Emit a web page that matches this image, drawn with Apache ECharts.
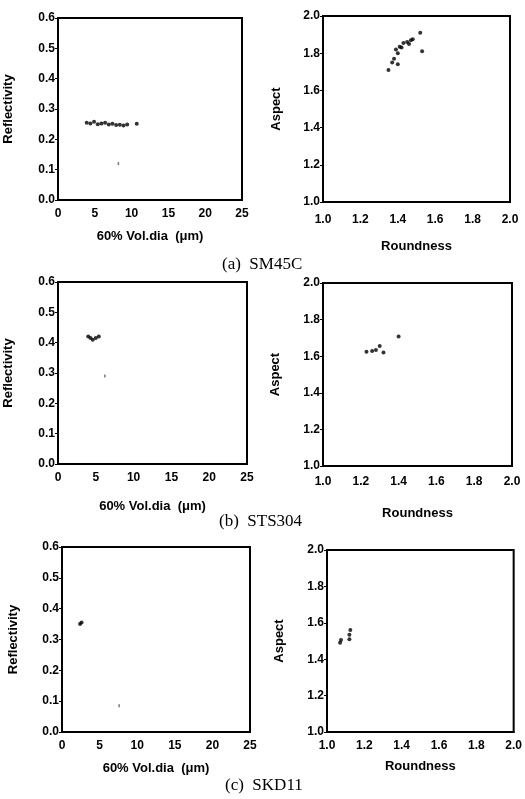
<!DOCTYPE html>
<html>
<head>
<meta charset="utf-8">
<script src="https://cdn.jsdelivr.net/npm/echarts@6/dist/echarts.min.js"></script>
<style>
  html, body { margin: 0; padding: 0; background: #fff; }
  #chart { width: 525px; height: 799px; }
</style>
</head>
<body>
<div id="chart"></div>
<script>
// tick values
var diaTicks = [0, 5, 10, 15, 20, 25];
var reflTicks = [0.0, 0.1, 0.2, 0.3, 0.4, 0.5, 0.6];
var roundTicks = [1.0, 1.2, 1.4, 1.6, 1.8, 2.0];
var aspectTicks = [1.0, 1.2, 1.4, 1.6, 1.8, 2.0];

// (a) SM45C
var aDia  = [3.9, 4.4, 4.9, 5.4, 5.9, 6.4, 6.9, 7.4, 7.9, 8.4, 8.9, 9.4, 10.7];
var aRefl = [0.255, 0.252, 0.258, 0.25, 0.252, 0.255, 0.249, 0.251, 0.247, 0.248, 0.246, 0.249, 0.251];
var aRound  = [1.35, 1.37, 1.38, 1.40, 1.39, 1.41, 1.40, 1.43, 1.45, 1.46, 1.47, 1.48, 1.52, 1.53, 1.42];
var aAspect = [1.71, 1.75, 1.77, 1.74, 1.82, 1.835, 1.80, 1.855, 1.86, 1.85, 1.87, 1.875, 1.91, 1.81, 1.83];

// (b) STS304
var bDia  = [4.0, 4.3, 4.6, 5.0, 5.4];
var bRefl = [0.42, 0.415, 0.41, 0.415, 0.42];
var bRound  = [1.23, 1.26, 1.28, 1.30, 1.32, 1.40];
var bAspect = [1.625, 1.628, 1.634, 1.656, 1.62, 1.707];

// (c) SKD11
var cDia  = [2.4, 2.6];
var cRefl = [0.35, 0.355];
var cRound  = [1.07, 1.075, 1.12, 1.12, 1.125];
var cAspect = [1.49, 1.505, 1.51, 1.535, 1.56];

// faint specks in the left panels (a, b, c)
var speckDia  = [8.2, 6.2, 7.6];
var speckRefl = [0.12, 0.29, 0.085];

var captions = ['(a)  SM45C', '(b)  STS304', '(c)  SKD11'];

function pairs(xs, ys) {
  var out = [];
  for (var i = 0; i < xs.length; i++) { out.push([xs[i], ys[i]]); }
  return out;
}

var tickFont = { color: '#000', fontFamily: 'Liberation Sans', fontWeight: 'bold', fontSize: 12 };
var nameFont = { color: '#000', fontFamily: 'Liberation Sans', fontWeight: 'bold', fontSize: 13 };

var grids = [
  { left: 58,  top: 18,  width: 184, height: 182 },
  { left: 323, top: 16,  width: 187, height: 186 },
  { left: 58,  top: 282, width: 189, height: 182 },
  { left: 323, top: 283, width: 189, height: 183 },
  { left: 62,  top: 547, width: 188, height: 185 },
  { left: 327, top: 550, width: 188, height: 182 }
];
grids.forEach(function (g) {
  g.show = true;
  g.borderColor = '#000';
  g.borderWidth = 2;
  g.backgroundColor = 'transparent';
});

var xGaps = [30, 38, 36, 41, 30, 28];
var xMargins = [8, 12, 8, 10, 8, 8];
var yGaps = [43, 40, 43, 41, 42, 41];

function intFmt(v) { return String(Math.round(v)); }
function oneDec(v) { return v.toFixed(1); }

var xAxes = [], yAxes = [];
for (var i = 0; i < 6; i++) {
  var left = (i % 2 === 0);
  var xt = left ? diaTicks : roundTicks;
  var yt = left ? reflTicks : aspectTicks;
  xAxes.push({
    type: 'value', gridIndex: i,
    min: xt[0], max: xt[xt.length - 1], interval: Math.round((xt[1] - xt[0]) * 10) / 10,
    name: left ? '60% Vol.dia  (\u03bcm)' : 'Roundness',
    nameLocation: 'middle', nameGap: xGaps[i],
    nameTextStyle: nameFont,
    axisLine: { show: true, lineStyle: { color: '#000', width: 2 } },
    axisTick: { show: false },
    splitLine: { show: false },
    axisLabel: Object.assign({ margin: xMargins[i], formatter: left ? intFmt : oneDec }, tickFont)
  });
  yAxes.push({
    type: 'value', gridIndex: i,
    min: yt[0], max: yt[yt.length - 1], interval: Math.round((yt[1] - yt[0]) * 10) / 10,
    name: left ? 'Reflectivity' : 'Aspect',
    nameLocation: 'middle', nameGap: yGaps[i],
    nameTextStyle: nameFont,
    axisLine: { show: true, lineStyle: { color: '#000', width: 2 } },
    axisTick: { show: true, length: 3, lineStyle: { color: '#000' } },
    splitLine: { show: false },
    axisLabel: Object.assign({ margin: 3, formatter: oneDec }, tickFont)
  });
}

var sets = [
  pairs(aDia, aRefl), pairs(aRound, aAspect),
  pairs(bDia, bRefl), pairs(bRound, bAspect),
  pairs(cDia, cRefl), pairs(cRound, cAspect)
];
var series = sets.map(function (d, i) {
  return {
    type: 'scatter', xAxisIndex: i, yAxisIndex: i,
    data: d, symbol: 'circle', symbolSize: 4,
    itemStyle: { color: '#000' }, silent: true
  };
});
for (var k = 0; k < speckDia.length; k++) {
  series.push({
    type: 'scatter', xAxisIndex: k * 2, yAxisIndex: k * 2,
    data: [[speckDia[k], speckRefl[k]]], symbol: 'rect', symbolSize: [1.5, 3],
    itemStyle: { color: '#555' }, silent: true
  });
}

var captionFont = { color: '#000', fontFamily: 'Liberation Serif', fontSize: 17, fontWeight: 'normal' };
var titles = [
  { text: captions[0], left: 222, top: 256, textStyle: captionFont },
  { text: captions[1], left: 219, top: 513, textStyle: captionFont },
  { text: captions[2], left: 225, top: 777, textStyle: captionFont }
];
titles.forEach(function (t) { t.padding = 0; });

var chart = echarts.init(document.getElementById('chart'), null, { renderer: 'canvas' });
chart.setOption({
  animation: false,
  backgroundColor: '#fff',
  title: titles,
  grid: grids,
  xAxis: xAxes,
  yAxis: yAxes,
  series: series
});
</script>
</body>
</html>
